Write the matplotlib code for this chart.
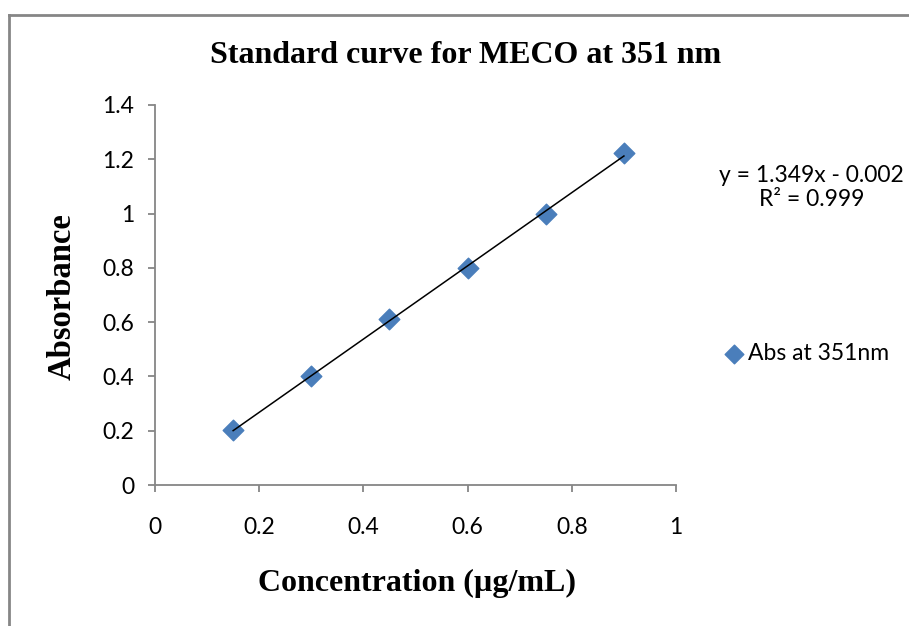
#!/usr/bin/env python3

import matplotlib
matplotlib.use("Agg")
import matplotlib.pyplot as plt
import numpy as np

# data
conc = [0.15, 0.30, 0.45, 0.60, 0.75, 0.90]
absorb = [0.203, 0.400, 0.610, 0.800, 1.000, 1.222]
slope = 1.349
intercept = -0.002
r2 = 0.999
x_ticks = [0, 0.2, 0.4, 0.6, 0.8, 1]
x_tick_labels = ["0", "0.2", "0.4", "0.6", "0.8", "1"]
y_ticks = [0, 0.2, 0.4, 0.6, 0.8, 1, 1.2, 1.4]
y_tick_labels = ["0", "0.2", "0.4", "0.6", "0.8", "1", "1.2", "1.4"]

BLUE = "#4a7ebb"
GREY = "#868686"
TICK_FONT = "Lato"
SERIF = "Liberation Serif"
FS = 16.5


def main():
	fig = plt.figure(figsize=(9.09, 6.26), dpi=100)
	ax = fig.add_axes([0.1705, 0.2252, 0.5732, 0.6071])

	# outer chart frame (only top and left visible in the reference)
	fig.add_artist(plt.Line2D([0.0095, 0.0095], [0.0, 0.976], color=GREY, lw=2, transform=fig.transFigure))
	fig.add_artist(plt.Line2D([0.0095, 1.0], [0.976, 0.976], color=GREY, lw=2, transform=fig.transFigure))

	ax.scatter(conc, absorb, marker="D", s=110, color=BLUE, zorder=3, label="Abs at 351nm")

	# linear trendline over the data range
	xs = np.array([min(conc), max(conc)])
	ax.plot(xs, slope * xs + intercept, color="black", lw=1.1, zorder=4)

	ax.set_xlim(0, 1)
	ax.set_ylim(0, 1.4)
	ax.set_xticks(x_ticks)
	ax.set_xticklabels(x_tick_labels, fontfamily=TICK_FONT, fontsize=FS)
	ax.set_yticks(y_ticks)
	ax.set_yticklabels(y_tick_labels, fontfamily=TICK_FONT, fontsize=FS)

	for side in ["top", "right"]:
		ax.spines[side].set_visible(False)
	for side in ["left", "bottom"]:
		ax.spines[side].set_color(GREY)
		ax.spines[side].set_linewidth(1.3)
	ax.tick_params(axis="both", direction="out", length=5, width=1.3, color=GREY)
	ax.tick_params(axis="x", pad=18)
	ax.tick_params(axis="y", pad=10)

	fig.text(0.512, 0.912, "Standard curve for MECO at 351 nm", ha="center", va="center",
		fontfamily=SERIF, fontweight="bold", fontsize=23)
	fig.text(0.068, 0.527, "Absorbance", ha="center", va="center", rotation=90,
		fontfamily=SERIF, fontweight="bold", fontsize=23.5)
	fig.text(0.459, 0.068, "Concentration (µg/mL)", ha="center", va="center",
		fontfamily=SERIF, fontweight="bold", fontsize=23)

	# trendline label; kept just inside the right edge
	eq = f"y = {slope}x - {abs(intercept):.3f}\nR² = {r2}"
	fig.text(0.893, 0.7005, eq, ha="center", va="center", multialignment="center",
		fontfamily=TICK_FONT, fontsize=FS, linespacing=1.15)

	leg = ax.legend(loc="center left", bbox_to_anchor=(1.05, 0.345), frameon=False,
		handletextpad=0.1, handlelength=1.0, prop={"family": TICK_FONT, "size": FS})
	for h in leg.legend_handles:
		h.set_sizes([90])

	fig.savefig("out.png", dpi=100, facecolor="white")


if __name__ == "__main__":
	main()
